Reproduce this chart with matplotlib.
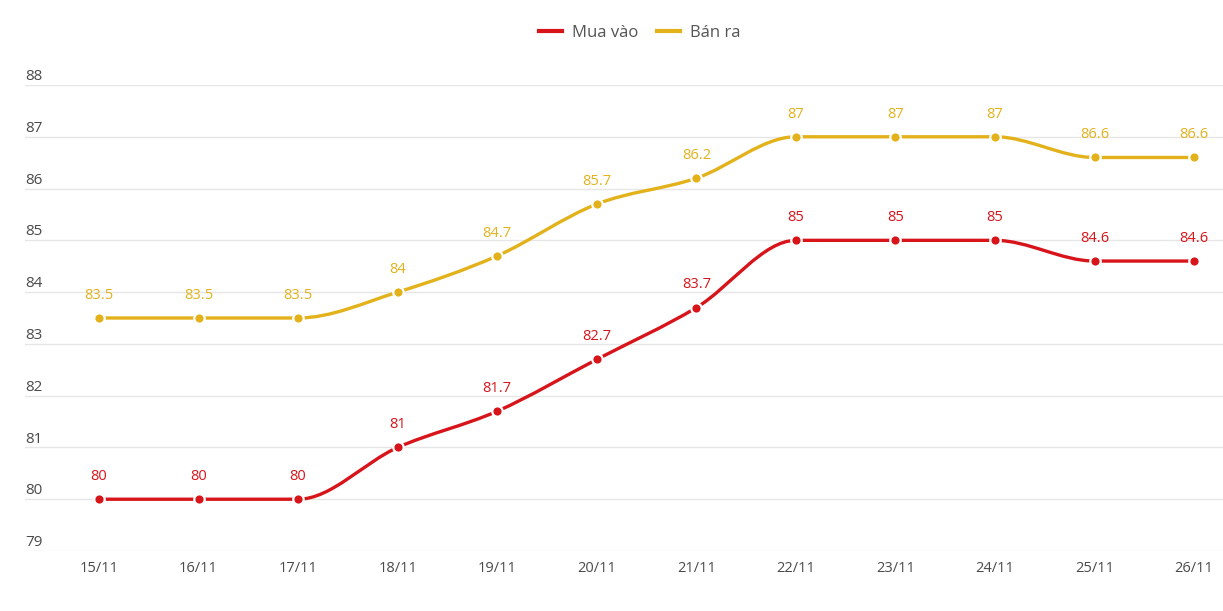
import numpy as np
import matplotlib
matplotlib.use("Agg")
from matplotlib import pyplot as plt
from matplotlib.path import Path
from matplotlib.patches import PathPatch

dates = ["15/11", "16/11", "17/11", "18/11", "19/11", "20/11",
         "21/11", "22/11", "23/11", "24/11", "25/11", "26/11"]
mua_vao = [80, 80, 80, 81, 81.7, 82.7, 83.7, 85, 85, 85, 84.6, 84.6]
ban_ra = [83.5, 83.5, 83.5, 84, 84.7, 85.7, 86.2, 87, 87, 87, 86.6, 86.6]
y_ticks = [79, 80, 81, 82, 83, 84, 85, 86, 87, 88]

RED = "#d7141a"
GOLD = "#e3b21b"
TEXT = "#4a4a4a"

plt.rcParams['font.family'] = ['Open Sans', 'DejaVu Sans']


def monotone_tangents(x, y):
    # slopes like d3 curveMonotoneX
    x = np.asarray(x, float)
    y = np.asarray(y, float)
    h = np.diff(x)
    s = np.diff(y) / h
    m = np.zeros_like(y)
    for i in range(1, len(y) - 1):
        p = (s[i - 1] * h[i] + s[i] * h[i - 1]) / (h[i - 1] + h[i])
        m[i] = (np.sign(s[i - 1]) + np.sign(s[i])) * min(abs(s[i - 1]), abs(s[i]), 0.5 * abs(p))
    m[0] = (3 * s[0] - m[1]) / 2
    m[-1] = (3 * s[-1] - m[-2]) / 2
    return m


def smooth_path(x, y):
    m = monotone_tangents(x, y)
    verts = [(x[0], y[0])]
    codes = [Path.MOVETO]
    for i in range(len(x) - 1):
        h = x[i + 1] - x[i]
        verts += [(x[i] + h / 3, y[i] + m[i] * h / 3),
                  (x[i + 1] - h / 3, y[i + 1] - m[i + 1] * h / 3),
                  (x[i + 1], y[i + 1])]
        codes += [Path.CURVE4] * 3
    return Path(verts, codes)


dpi = 100
fig = plt.figure(figsize=(1223 / dpi, 611 / dpi), dpi=dpi)
ax = fig.add_axes([25 / 1223, 1 - 551 / 611, 1 - 25 / 1223, (551 - 85) / 611])

xs = list(range(len(dates)))
for series, color, label in [(mua_vao, RED, "Mua vào"), (ban_ra, GOLD, "Bán ra")]:
    patch = PathPatch(smooth_path(xs, series), facecolor="none", edgecolor=color,
                      lw=2.4, capstyle="round", zorder=3)
    ax.add_patch(patch)
    ax.plot(xs, series, ls="none", marker="o", ms=7.5, mfc=color, mec="white",
            mew=1.6, zorder=4)
    ax.plot([], [], color=color, lw=3, label=label)
    for xi, v in zip(xs, series):
        ax.annotate("{:g}".format(v), (xi, v), xytext=(0, 11), textcoords="offset points",
                    ha="center", va="bottom", color=color, fontsize=10.5)

ax.set_xlim(-0.743, 11.29)
ax.set_ylim(79, 88)
ax.set_yticks(y_ticks)
ax.set_xticks(xs)
ax.set_xticklabels(dates, fontsize=10.5, color=TEXT)
ax.tick_params(axis="x", length=0, pad=7)
ax.tick_params(axis="y", length=0, labelleft=False)
ax.grid(axis="y", color="#e6e6e6", lw=1)
ax.set_axisbelow(True)
for sp in ax.spines.values():
    sp.set_visible(False)

for t in y_ticks:
    ax.annotate(str(t), (0, t), xycoords=("axes fraction", "data"), xytext=(0, 3.5),
                textcoords="offset points", ha="left", va="baseline", color=TEXT, fontsize=11)

fig.legend(loc="upper center", bbox_to_anchor=(640 / 1223, 1 - 10 / 611), ncol=2,
           frameon=False, fontsize=12, handlelength=1.4, columnspacing=1.1,
           handletextpad=0.6, labelcolor="#555555")

fig.savefig("out.png", dpi=dpi)
